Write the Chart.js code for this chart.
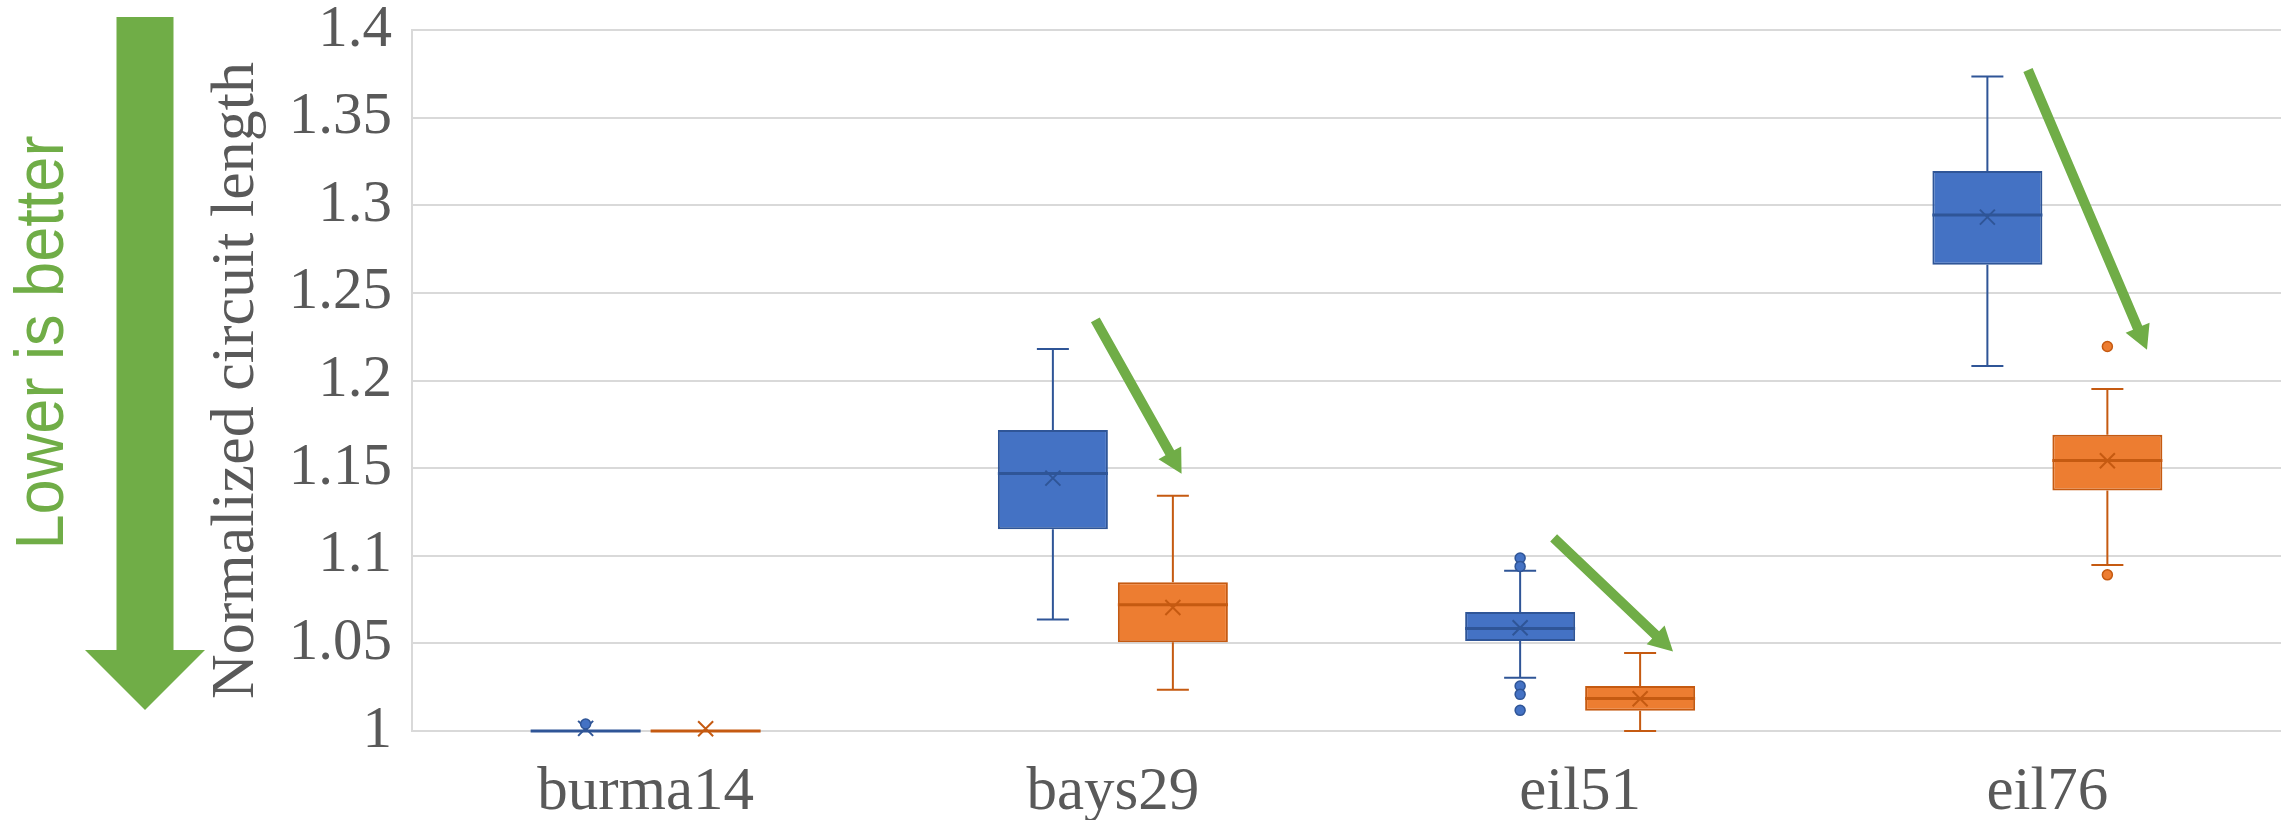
<!DOCTYPE html>
<html>
<head>
<meta charset="utf-8">
<title>Normalized circuit length</title>
<script src="https://cdn.jsdelivr.net/npm/chart.js@4.4.1/dist/chart.umd.min.js"></script>
<style>
  html, body { margin: 0; padding: 0; background: #ffffff; }
  #wrap { position: relative; width: 2281px; height: 820px; }
</style>
</head>
<body>
<div id="wrap"><canvas id="chart" width="2281" height="820"></canvas></div>
<script>
// ---- data ----
const categories = ['burma14', 'bays29', 'eil51', 'eil76'];
const yTickLabels = ['1', '1.05', '1.1', '1.15', '1.2', '1.25', '1.3', '1.35', '1.4'];

// blue series: five-number summary, mean and outliers per instance
const blueMin    = [1.000, 1.0636, 1.0304, 1.2083];
const blueQ1     = [1.000, 1.1151, 1.0513, 1.2660];
const blueMedian = [1.000, 1.1469, 1.0585, 1.2945];
const blueQ3     = [1.000, 1.1718, 1.0679, 1.3196];
const blueMax    = [1.000, 1.2180, 1.0914, 1.3735];
const blueMean   = [1.0015, 1.1443, 1.0589, 1.2932];
const blueOutliers = [[1.004], [], [1.0987, 1.0939, 1.0257, 1.0209, 1.0118], []];

// orange series
const orangeMin    = [1.000, 1.0236, 1.000, 1.0947];
const orangeQ1     = [1.000, 1.0507, 1.0116, 1.1372];
const orangeMedian = [1.000, 1.0720, 1.0186, 1.1543];
const orangeQ3     = [1.000, 1.0849, 1.0257, 1.1690];
const orangeMax    = [1.000, 1.1342, 1.0445, 1.1951];
const orangeMean   = [1.0013, 1.0705, 1.0184, 1.1542];
const orangeOutliers = [[], [], [], [1.2194, 1.0891]];

// ---- styling ----
const BLUE = '#4472C4', BLUE_EDGE = '#2F5597';
const ORANGE = '#ED7D31', ORANGE_EDGE = '#C55A11';
const GREEN = '#70AD47';
const TEXT = '#595959';
const GRID = '#D9D9D9';

const stats = [
  { min: blueMin, q1: blueQ1, med: blueMedian, q3: blueQ3, max: blueMax, mean: blueMean, out: blueOutliers, fill: BLUE, edge: BLUE_EDGE },
  { min: orangeMin, q1: orangeQ1, med: orangeMedian, q3: orangeQ3, max: orangeMax, mean: orangeMean, out: orangeOutliers, fill: ORANGE, edge: ORANGE_EDGE }
];

// arrows showing the shift between the two series (category index, offset in category widths, value)
const trendArrows = [
  { cat: 1, from: [-0.0376, 1.2346], to: [0.147, 1.1468] },
  { cat: 2, from: [-0.0567, 1.1102], to: [0.1988, 1.0454] },
  { cat: 3, from: [-0.0415, 1.3772], to: [0.2132, 1.2175] }
];

function arrowPath(ctx, x1, y1, x2, y2, shaftW, headL, headW) {
  const dx = x2 - x1, dy = y2 - y1;
  const len = Math.hypot(dx, dy);
  const ux = dx / len, uy = dy / len;
  const px = -uy, py = ux;
  const nx = x2 - ux * headL, ny = y2 - uy * headL;
  const s = shaftW / 2, h = headW / 2;
  ctx.beginPath();
  ctx.moveTo(x1 + px * s, y1 + py * s);
  ctx.lineTo(nx + px * s, ny + py * s);
  ctx.lineTo(nx + px * h, ny + py * h);
  ctx.lineTo(x2, y2);
  ctx.lineTo(nx - px * h, ny - py * h);
  ctx.lineTo(nx - px * s, ny - py * s);
  ctx.lineTo(x1 - px * s, y1 - py * s);
  ctx.closePath();
}

// whiskers, medians, means and outliers on top of the floating bars
const boxDecor = {
  id: 'boxDecor',
  afterDatasetsDraw(chart) {
    const ctx = chart.ctx;
    const y = chart.scales.y;
    ctx.save();
    stats.forEach((st, d) => {
      const meta = chart.getDatasetMeta(d);
      meta.data.forEach((bar, i) => {
        const x = bar.x, w = bar.width;
        const yq1 = y.getPixelForValue(st.q1[i]);
        const yq3 = y.getPixelForValue(st.q3[i]);
        const ymin = y.getPixelForValue(st.min[i]);
        const ymax = y.getPixelForValue(st.max[i]);
        const ymed = y.getPixelForValue(st.med[i]);
        const ymean = y.getPixelForValue(st.mean[i]);
        ctx.strokeStyle = st.edge;
        ctx.lineWidth = 2;
        ctx.lineCap = 'butt';
        // whiskers
        ctx.beginPath();
        ctx.moveTo(x, yq3); ctx.lineTo(x, ymax);
        ctx.moveTo(x - 16, ymax); ctx.lineTo(x + 16, ymax);
        ctx.moveTo(x, yq1); ctx.lineTo(x, ymin);
        ctx.moveTo(x - 16, ymin); ctx.lineTo(x + 16, ymin);
        ctx.stroke();
        // median
        ctx.lineWidth = 3;
        ctx.beginPath();
        ctx.moveTo(x - w / 2, ymed); ctx.lineTo(x + w / 2, ymed);
        ctx.stroke();
        // mean marker
        ctx.lineWidth = 2;
        ctx.beginPath();
        ctx.moveTo(x - 7.5, ymean - 7.5); ctx.lineTo(x + 7.5, ymean + 7.5);
        ctx.moveTo(x + 7.5, ymean - 7.5); ctx.lineTo(x - 7.5, ymean + 7.5);
        ctx.stroke();
        // outliers
        st.out[i].forEach(v => {
          ctx.beginPath();
          ctx.arc(x, y.getPixelForValue(v), 5, 0, Math.PI * 2);
          ctx.fillStyle = st.fill;
          ctx.fill();
          ctx.lineWidth = 1.5;
          ctx.stroke();
        });
      });
    });
    ctx.restore();
  },
  afterDraw(chart) {
    const ctx = chart.ctx;
    const xs = chart.scales.x, ys = chart.scales.y;
    const cw = xs.getPixelForValue(1) - xs.getPixelForValue(0);
    const area = chart.chartArea;
    ctx.save();
    ctx.fillStyle = GREEN;
    trendArrows.forEach(a => {
      const c = xs.getPixelForValue(a.cat);
      arrowPath(ctx,
        c + a.from[0] * cw, ys.getPixelForValue(a.from[1]),
        c + a.to[0] * cw, ys.getPixelForValue(a.to[1]),
        10, 24, 26);
      ctx.fill();
    });

    // large "lower is better" arrow beside the axis
    const ax = 145;
    const top = area.top - 13, tip = area.bottom - 21, headBase = tip - 60;
    ctx.beginPath();
    ctx.moveTo(ax - 28.5, top);
    ctx.lineTo(ax + 28.5, top);
    ctx.lineTo(ax + 28.5, headBase);
    ctx.lineTo(ax + 60, headBase);
    ctx.lineTo(ax, tip);
    ctx.lineTo(ax - 60, headBase);
    ctx.lineTo(ax - 28.5, headBase);
    ctx.closePath();
    ctx.fill();

    ctx.translate(63, (area.top + area.bottom) / 2 - 38);
    ctx.rotate(-Math.PI / 2);
    ctx.font = '68px "Liberation Sans", Arial, sans-serif';
    ctx.textAlign = 'center';
    ctx.textBaseline = 'alphabetic';
    ctx.fillText('Lower is better', 0, 0, 414);
    ctx.restore();
  }
};

new Chart(document.getElementById('chart'), {
  type: 'bar',
  data: {
    labels: categories,
    datasets: stats.map(st => ({
      data: categories.map((_, i) => [st.q1[i], st.q3[i]]),
      backgroundColor: st.fill,
      borderColor: st.edge,
      borderWidth: 2,
      borderSkipped: false,
      categoryPercentage: 0.5136,
      barPercentage: 0.9167
    }))
  },
  options: {
    responsive: false,
    animation: false,
    events: [],
    layout: { padding: { left: 200, top: 30, right: 0, bottom: 0 } },
    plugins: { legend: { display: false }, tooltip: { enabled: false } },
    scales: {
      x: {
        grid: { display: false },
        border: { display: false },
        ticks: {
          color: TEXT,
          padding: 17,
          font: { family: '"Liberation Serif", "Times New Roman", serif', size: 61 }
        },
        afterFit(s) { s.height = 89; s.paddingLeft = 0; s.paddingRight = 0; }
      },
      y: {
        min: 1,
        max: 1.4,
        grid: { color: GRID, lineWidth: 2, drawTicks: false },
        border: { color: GRID, width: 2 },
        ticks: {
          stepSize: 0.05,
          padding: 20,
          color: TEXT,
          font: { family: '"Liberation Serif", "Times New Roman", serif', size: 59, lineHeight: 1 },
          callback: (v, i) => yTickLabels[i]
        },
        title: {
          display: true,
          text: 'Normalized circuit length',
          color: TEXT,
          padding: 0,
          font: { family: '"Liberation Serif", "Times New Roman", serif', size: 62, lineHeight: 1.2 }
        },
        afterFit(s) { s.width = 212; s.paddingTop = 0; s.paddingBottom = 0; }
      }
    }
  },
  plugins: [boxDecor]
});
</script>
</body>
</html>
